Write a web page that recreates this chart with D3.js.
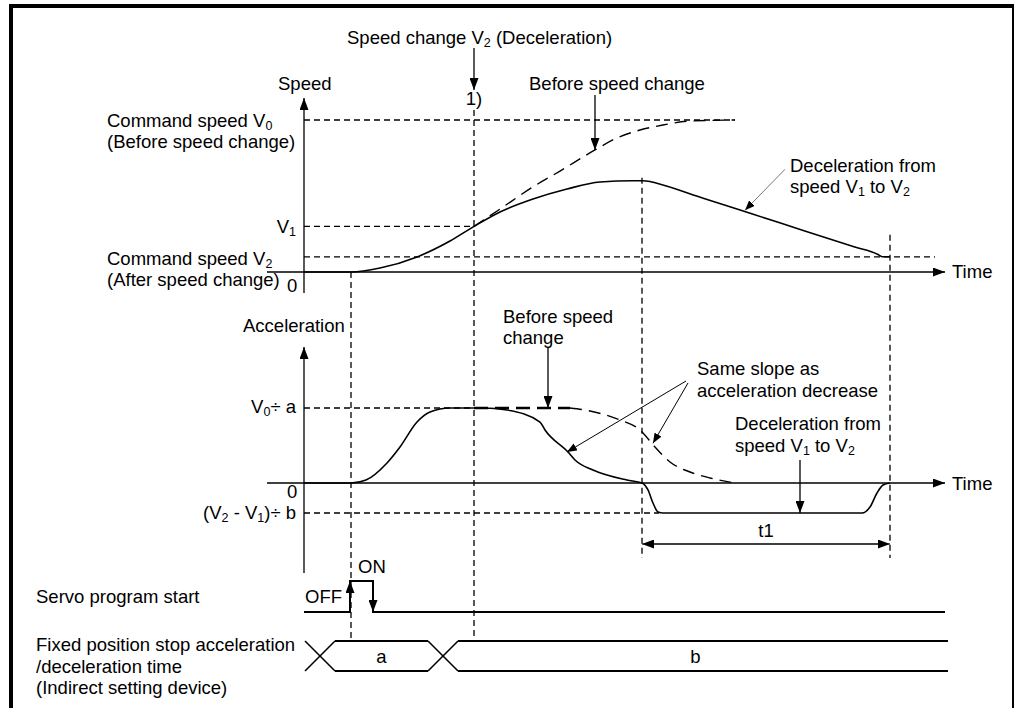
<!DOCTYPE html>
<html><head><meta charset="utf-8">
<script src="https://cdn.jsdelivr.net/npm/d3@7"></script>
<style>
html,body{margin:0;padding:0;background:#fff;}
svg{display:block;}
text{font-family:"Liberation Sans",Arial,sans-serif;font-size:18.5px;fill:#000;}
</style></head>
<body>
<svg id="c" width="1016" height="708"></svg>
<script>
// ---------------- data (time in units, speed in % of V0, acceleration in % of V0/a) -------------
const V0 = 100, V1 = 30, V2 = 10;
const A_max = 100, A_dec = -40;
const tStart = 47, tChange = 170, tDecStart = 338, tEnd = 586, tMax = 641;

const speedT      = [0, 47, 76, 113, 146, 170, 196, 229, 263, 296, 329, 338, 346, 352, 400, 450, 500, 550, 574, 578, 586];
const speedV      = [0, 0, 2.6, 9.9, 20.4, 30, 39.5, 48, 54.6, 59.2, 60, 60, 59.5, 58.5, 48.4, 37.8, 27.2, 16.6, 11.5, 10, 10];
const speedBeforeT = [170, 196, 229, 256, 291, 313, 336, 359, 386, 431];
const speedBeforeV = [30, 41.4, 56, 66.4, 80.3, 88.2, 93.4, 96.7, 99.3, 100];

const accT = [0, 47, 62, 83, 96, 113, 126, 146, 170, 179, 203, 236, 241, 264, 271, 289, 323, 338, 344, 349, 354, 359, 558, 566, 573, 579, 586];
const accA = [0, 0, 4, 26.7, 48, 81.3, 94.7, 100, 100, 100, 97.3, 81.3, 70.7, 41.3, 30.7, 17.3, 4, 0, -9.3, -26.7, -38.7, -40, -40, -32, -13.3, -2.7, 0];
const accBeforeFlatT = [170, 266];
const accBeforeT = [266, 286, 316, 336, 351, 366, 386, 406, 431];
const accBeforeA = [100, 96, 84, 70.7, 48, 28, 14.7, 6.7, 0];

const startSigT = [0, 46, 46, 69, 69, tMax];
const startSigL = [0, 0, 1, 1, 0, 0];
const deviceCross = [16, 139];          // times where the device value changes
const deviceLabels = ["a", "b"];
const deviceEnd = 644;

// ---------------- scales -------------
const svg = d3.select("#c");
const x = d3.scaleLinear().domain([0, tMax]).range([304, 945]);
const yS = d3.scaleLinear().domain([0, V0]).range([272, 120]);
const yA = d3.scaleLinear().domain([0, A_max]).range([483, 408]);
const yL = d3.scaleLinear().domain([0, 1]).range([612, 581]);

// ---------------- frame -------------
svg.append("rect").attr("x", 9).attr("y", 4).attr("width", 1005).attr("height", 4).attr("fill", "#000");
svg.append("rect").attr("x", 9).attr("y", 4).attr("width", 4).attr("height", 704).attr("fill", "#000");
svg.append("rect").attr("x", 1012).attr("y", 4).attr("width", 2).attr("height", 704).attr("fill", "#000");

// arrow marker
const defs = svg.append("defs");
defs.append("marker").attr("id", "ah").attr("viewBox", "0 0 10 10")
  .attr("refX", 10).attr("refY", 5).attr("markerUnits", "userSpaceOnUse")
  .attr("markerWidth", 12).attr("markerHeight", 9).attr("orient", "auto")
  .attr("preserveAspectRatio", "none")
  .append("path").attr("d", "M0,0L10,5L0,10Z").attr("fill", "#000");
defs.append("marker").attr("id", "ahs").attr("viewBox", "0 0 10 10")
  .attr("refX", 10).attr("refY", 5).attr("markerUnits", "userSpaceOnUse")
  .attr("markerWidth", 10).attr("markerHeight", 8).attr("orient", "auto")
  .attr("preserveAspectRatio", "none")
  .append("path").attr("d", "M0,0L10,5L0,10Z").attr("fill", "#000");

function line(x1, y1, x2, y2, opt = {}) {
  const l = svg.append("line").attr("x1", x1).attr("y1", y1).attr("x2", x2).attr("y2", y2)
    .attr("stroke", opt.color || "#000").attr("stroke-width", opt.w || 1.3);
  if (opt.dash) l.attr("stroke-dasharray", opt.dash);
  if (opt.arrow) l.attr("marker-end", "url(#" + opt.arrow + ")");
  return l;
}
// rich text: parts are strings; "_x" means subscript x
function label(xp, yp, parts, anchor = "start") {
  const t = svg.append("text").attr("x", xp).attr("y", yp).attr("text-anchor", anchor);
  let sub = false;
  parts.forEach(p => {
    if (p.startsWith("_")) {
      t.append("tspan").text(p.slice(1)).attr("font-size", "12.5px").attr("dy", 3);
      sub = true;
    } else {
      const s = t.append("tspan").text(p);
      if (sub) { s.attr("dy", -3); sub = false; }
    }
  });
  return t;
}
const DASH = "6,4";

// ---------------- speed chart -------------
line(x(0), yS(0) + 21, x(0), yS(V0) - 22, { arrow: "ah" });
line(x(0) - 37, yS(0), x(tMax), yS(0), { arrow: "ah" });
line(x(0), yS(V0), x(431), yS(V0), { dash: DASH });
line(x(0), yS(V1), x(tChange), yS(V1), { dash: DASH });
line(x(0), yS(V2), x(631), yS(V2), { dash: DASH });
line(x(tStart), yS(0), x(tStart), 641, { dash: DASH });
line(x(tChange), 110, x(tChange), 641, { dash: DASH });
line(x(tDecStart), yS(60) - 3, x(tDecStart), 558, { dash: DASH });
line(x(tEnd), yS(V2) - 22, x(tEnd), 558, { dash: DASH });

const lnS = d3.line().x(d => x(d[0])).y(d => yS(d[1])).curve(d3.curveMonotoneX);
svg.append("path").attr("d", lnS(d3.zip(speedBeforeT, speedBeforeV)))
  .attr("fill", "none").attr("stroke", "#000").attr("stroke-width", 1.4).attr("stroke-dasharray", "12,7");
svg.append("path").attr("d", lnS(d3.zip(speedT, speedV)))
  .attr("fill", "none").attr("stroke", "#000").attr("stroke-width", 1.6);

label(347, 44, ["Speed change V", "_2", " (Deceleration)"]);
line(x(tChange), 48, x(tChange), 90, { arrow: "ah" });
label(x(tChange), 105, ["1)"], "middle");
label(278, 90, ["Speed"]);
label(107, 127, ["Command speed V", "_0"]);
label(107, 148, ["(Before speed change)"]);
label(296, 233, ["V", "_1"], "end");
label(107, 265, ["Command speed V", "_2"]);
label(107, 286, ["(After speed change)"]);
label(287, 292, ["0"]);
label(952, 278, ["Time"]);
label(529, 90, ["Before speed change"]);
line(x(291), 95, x(291), yS(80.3), { arrow: "ah" });
label(790, 172, ["Deceleration from"]);
label(790, 193, ["speed V", "_1", "  to V", "_2"]);
line(x(441) + 40, yS(40.6) - 41, x(441), yS(40.6), { arrow: "ahs", color: "#777", w: 1 });

// ---------------- acceleration chart -------------
line(x(0), 573, x(0), yA(A_max) - 61, { arrow: "ah" });
line(x(0) - 37, yA(0), x(tMax), yA(0), { arrow: "ah" });
line(x(0), yA(A_max), x(tChange), yA(A_max), { dash: DASH });
line(x(0), yA(A_dec), x(355), yA(A_dec), { dash: DASH });

const lnA = d3.line().x(d => x(d[0])).y(d => yA(d[1])).curve(d3.curveMonotoneX);
svg.append("path").attr("d", lnA(accBeforeFlatT.map(t => [t, A_max])))
  .attr("fill", "none").attr("stroke", "#000").attr("stroke-width", 2.6).attr("stroke-dasharray", "14,7");
svg.append("path").attr("d", lnA(d3.zip(accBeforeT, accBeforeA)))
  .attr("fill", "none").attr("stroke", "#000").attr("stroke-width", 1.4).attr("stroke-dasharray", "12,7");
svg.append("path").attr("d", lnA(d3.zip(accT, accA)))
  .attr("fill", "none").attr("stroke", "#000").attr("stroke-width", 1.6);

label(243, 332, ["Acceleration"]);
label(296, 413, ["V", "_0", "÷ a"], "end");
label(287, 498, ["0"]);
label(296, 519, ["(V", "_2", " - V", "_1", ")÷ b"], "end");
label(952, 490, ["Time"]);
label(503, 323, ["Before speed"]);
label(503, 344, ["change"]);
line(x(244), 347, x(244), yA(A_max), { arrow: "ah" });
label(697, 375, ["Same slope as"]);
label(697, 397, ["acceleration decrease"]);
line(686, 381, x(263), yA(41.3), { arrow: "ahs", w: 1 });
line(688, 383, x(349), yA(53), { arrow: "ahs", w: 1 });
label(735, 430, ["Deceleration from"]);
label(735, 452, ["speed V", "_1", "  to V", "_2"]);
line(x(496), 460, x(496), yA(A_dec), { arrow: "ah" });
line(x(tDecStart) + 6, 544, x(tEnd), 544, { arrow: "ah", w: 1.2 });
line(x(tEnd) - 6, 544, x(tDecStart), 544, { arrow: "ah", w: 1.2 });
label((x(tDecStart) + x(tEnd)) / 2, 537, ["t1"], "middle");

// ---------------- timing signals -------------
const lnL = d3.line().x(d => x(d[0])).y(d => yL(d[1]));
svg.append("path").attr("d", lnL(d3.zip(startSigT, startSigL)))
  .attr("fill", "none").attr("stroke", "#000").attr("stroke-width", 2);
line(x(46), yL(0) - 10, x(46), yL(1), { arrow: "ah", w: 2 });
line(x(69), yL(1) + 10, x(69), yL(0), { arrow: "ah", w: 2 });
label(358, 573, ["ON"]);
label(305, 603, ["OFF"]);
label(36, 603, ["Servo program start"]);

const bTop = 641, bBot = 671, hw = 15;
const segs = [[deviceCross[0], deviceCross[1]], [deviceCross[1], deviceEnd]];
deviceCross.forEach(t => {
  line(x(t) - hw, bTop, x(t) + hw, bBot, { w: 1.6 });
  line(x(t) - hw, bBot, x(t) + hw, bTop, { w: 1.6 });
});
segs.forEach((s, i) => {
  const last = i === segs.length - 1;
  const x0 = x(s[0]) + hw, x1 = last ? x(s[1]) : x(s[1]) - hw;
  line(x0, bTop, x1, bTop, { w: 2 });
  line(x0, bBot, x1, bBot, { w: 2 });
  label((x(s[0]) + x(s[1])) / 2, 663, [deviceLabels[i]], "middle");
});
label(36, 651, ["Fixed position stop acceleration"]);
label(36, 673, ["/deceleration time"]);
label(36, 694, ["(Indirect setting device)"]);
</script>
</body></html>
